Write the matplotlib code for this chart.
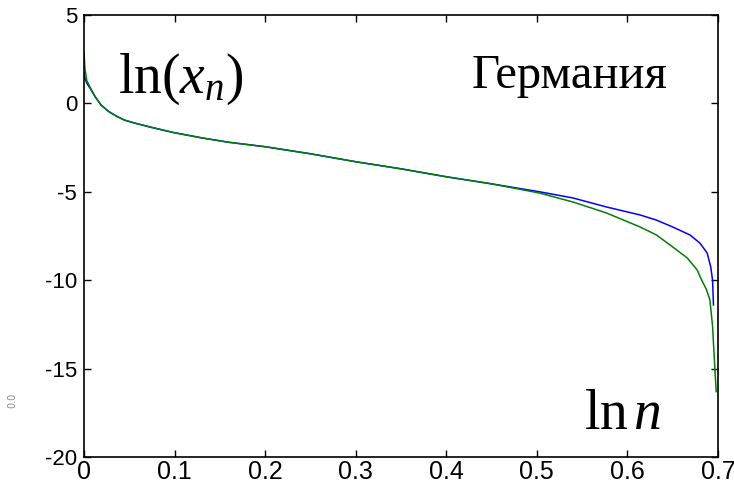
import matplotlib
matplotlib.use('Agg')
import matplotlib.pyplot as plt

# rank share (ln n scaled) vs ln(x_n)
x_blue = [0, 0.001, 0.003, 0.0074, 0.012, 0.019, 0.027, 0.036, 0.045, 0.055, 0.074,
          0.099, 0.13, 0.16, 0.2, 0.25, 0.3, 0.35, 0.4, 0.45, 0.503, 0.540, 0.577,
          0.614, 0.632, 0.650, 0.669, 0.680, 0.688, 0.692, 0.694, 0.695]
y_blue = [1.7, 1.45, 1.15, 0.8, 0.4, -0.1, -0.45, -0.73, -0.95, -1.1, -1.35,
          -1.65, -1.95, -2.2, -2.45, -2.85, -3.3, -3.7, -4.15, -4.55, -5.0, -5.35, -5.86,
          -6.31, -6.6, -6.99, -7.44, -7.9, -8.46, -9.25, -10.0, -11.4]

x_green = [0, 0.001, 0.003, 0.0074, 0.012, 0.019, 0.027, 0.036, 0.045, 0.055, 0.074,
           0.099, 0.13, 0.16, 0.2, 0.25, 0.3, 0.35, 0.4, 0.45, 0.503, 0.540, 0.577,
           0.614, 0.632, 0.650, 0.666, 0.677, 0.682, 0.687, 0.691, 0.694, 0.696, 0.698]
y_green = [2.9, 2.0, 1.3, 0.85, 0.4, -0.1, -0.45, -0.73, -0.95, -1.1, -1.35,
           -1.65, -1.95, -2.2, -2.45, -2.85, -3.3, -3.7, -4.15, -4.55, -5.07, -5.58, -6.2,
           -6.99, -7.44, -8.12, -8.74, -9.42, -10.0, -10.5, -11.1, -12.6, -14.5, -16.3]

xticks = [0, 0.1, 0.2, 0.3, 0.4, 0.5, 0.6, 0.7]
xticklabels = ['0', '0.1', '0.2', '0.3', '0.4', '0.5', '0.6', '0.7']
yticks = [5, 0, -5, -10, -15, -20]

plt.rcParams['axes.unicode_minus'] = False
plt.rcParams['mathtext.fontset'] = 'custom'
plt.rcParams['mathtext.rm'] = 'Liberation Serif'
plt.rcParams['mathtext.it'] = 'Liberation Serif:italic'

fig = plt.figure(figsize=(7.34, 4.82), dpi=100)
ax = fig.add_axes([84/734, 1 - 457/482, 634/734, 442/482])

ax.plot(x_blue, y_blue, color='#0000ff', lw=1.1)
ax.plot(x_green, y_green, color='#008000', lw=1.1)

ax.set_xlim(0, 0.7)
ax.set_ylim(-20, 5)
ax.set_xticks(xticks)
ax.set_xticklabels(xticklabels)
ax.set_yticks(yticks)
ax.tick_params(direction='in', length=5, width=1, top=True, right=True)
ax.tick_params(axis='y', labelsize=16, pad=5)
ax.tick_params(axis='x', labelsize=18, pad=2)
for lab in ax.get_xticklabels() + ax.get_yticklabels():
    lab.set_family('Liberation Sans')
for s in ax.spines.values():
    s.set_linewidth(1.2)

serif = 'Liberation Serif'
ax.text(0.038, 0.6, r'$\mathrm{ln}(x_n)$', fontsize=40, ha='left', va='baseline')
ax.text(0.428, 0.87, 'Германия', fontsize=35, family=serif, ha='left', va='baseline')
ax.text(0.552, -18.4, r'$\mathrm{ln}\,n$', fontsize=40, ha='left', va='baseline')

# faint artefact at the left edge
fig.text(12/734, 1 - 400/482, '0.0', rotation=90, fontsize=7, color='#888888',
         ha='center', va='center')

fig.savefig('out.png', dpi=100)
